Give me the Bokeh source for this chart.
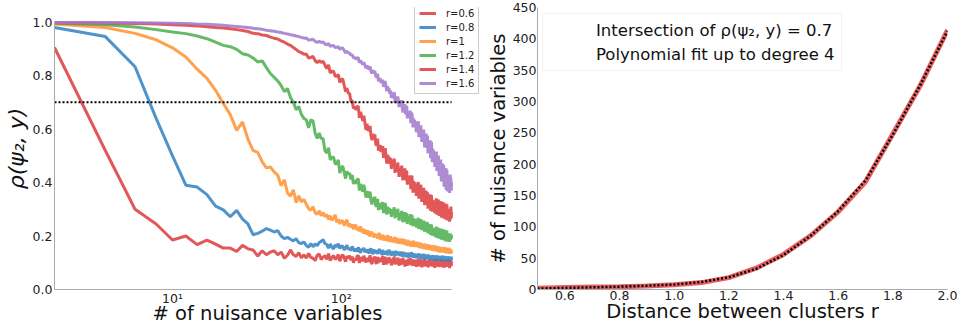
from bokeh.plotting import figure
from bokeh.models import FixedTicker, PrintfTickFormatter, Legend, LegendItem
from bokeh.layouts import row
from bokeh.embed import file_html
from bokeh.resources import INLINE

# ---------------- data: left panel ----------------
N_VARS = list(range(2, 452, 2))  # number of nuisance variables
THRESHOLD = 0.7
SERIES_LABELS = ["r=0.6", "r=0.8", "r=1", "r=1.2", "r=1.4", "r=1.6"]

RHO_R06 = [
    0.905, 0.52, 0.30, 0.245, 0.185, 0.20, 0.168, 0.185, 0.17, 0.155,
    0.155, 0.142, 0.165, 0.152, 0.148, 0.125, 0.145, 0.13, 0.14, 0.145,
    0.13, 0.14, 0.117, 0.128, 0.148, 0.13, 0.124, 0.138, 0.118, 0.13,
    0.117, 0.135, 0.12, 0.117, 0.108, 0.128, 0.133, 0.112, 0.121, 0.126,
    0.113, 0.134, 0.108, 0.12, 0.127, 0.112, 0.119, 0.131, 0.106, 0.122,
    0.131, 0.118, 0.104, 0.125, 0.117, 0.127, 0.109, 0.123, 0.1, 0.116,
    0.109, 0.124, 0.128, 0.099, 0.121, 0.114, 0.106, 0.126, 0.113, 0.101,
    0.118, 0.104, 0.112, 0.128, 0.103, 0.095, 0.119, 0.111, 0.124, 0.1,
    0.097, 0.122, 0.1, 0.113, 0.117, 0.104, 0.111, 0.126, 0.092, 0.114,
    0.122, 0.103, 0.094, 0.116, 0.108, 0.121, 0.099, 0.115, 0.09, 0.108,
    0.1, 0.117, 0.121, 0.093, 0.111, 0.104, 0.096, 0.119, 0.107, 0.089,
    0.115, 0.101, 0.092, 0.112, 0.104, 0.118, 0.095, 0.109, 0.086, 0.103,
    0.095, 0.111, 0.089, 0.106, 0.114, 0.097, 0.104, 0.118, 0.09, 0.108,
    0.113, 0.098, 0.088, 0.109, 0.1, 0.112, 0.093, 0.107, 0.085, 0.101,
    0.094, 0.11, 0.114, 0.087, 0.105, 0.098, 0.091, 0.113, 0.102, 0.083,
    0.111, 0.096, 0.087, 0.108, 0.099, 0.115, 0.092, 0.104, 0.086, 0.1,
    0.092, 0.108, 0.097, 0.083, 0.11, 0.101, 0.095, 0.114, 0.088, 0.104,
    0.109, 0.094, 0.086, 0.107, 0.098, 0.112, 0.09, 0.103, 0.081, 0.099,
    0.093, 0.11, 0.113, 0.086, 0.104, 0.096, 0.09, 0.111, 0.099, 0.084,
    0.108, 0.095, 0.088, 0.106, 0.1, 0.114, 0.091, 0.105, 0.083, 0.098,
    0.094, 0.109, 0.096, 0.082, 0.11, 0.1, 0.093, 0.112, 0.087, 0.103,
    0.107, 0.092, 0.085, 0.105, 0.097, 0.113, 0.089, 0.104, 0.08, 0.098,
    0.11, 0.093, 0.101, 0.087, 0.106,
]

RHO_R08 = [
    0.98, 0.946, 0.833, 0.64, 0.50, 0.39, 0.383, 0.355, 0.312, 0.298,
    0.272, 0.296, 0.263, 0.245, 0.205, 0.21, 0.218, 0.228, 0.222, 0.215,
    0.22, 0.20, 0.19, 0.195, 0.188, 0.182, 0.19, 0.175, 0.172, 0.178,
    0.165, 0.158, 0.172, 0.16, 0.17, 0.164, 0.176, 0.18, 0.186, 0.172,
    0.168, 0.155, 0.17, 0.158, 0.152, 0.167, 0.16, 0.171, 0.153, 0.163,
    0.162, 0.148, 0.157, 0.166, 0.149, 0.156, 0.145, 0.161, 0.151, 0.143,
    0.153, 0.141, 0.158, 0.145, 0.137, 0.152, 0.146, 0.156, 0.139, 0.15,
    0.138, 0.151, 0.134, 0.147, 0.154, 0.14, 0.132, 0.149, 0.143, 0.136,
    0.147, 0.133, 0.141, 0.152, 0.135, 0.145, 0.129, 0.148, 0.139, 0.131,
    0.142, 0.13, 0.146, 0.128, 0.14, 0.149, 0.133, 0.137, 0.126, 0.144,
    0.128, 0.141, 0.136, 0.124, 0.145, 0.131, 0.139, 0.127, 0.142, 0.133,
    0.138, 0.125, 0.133, 0.142, 0.122, 0.136, 0.129, 0.14, 0.124, 0.132,
    0.121, 0.135, 0.128, 0.138, 0.119, 0.132, 0.136, 0.123, 0.13, 0.139,
    0.133, 0.12, 0.129, 0.136, 0.118, 0.131, 0.124, 0.134, 0.117, 0.128,
    0.131, 0.118, 0.127, 0.135, 0.116, 0.129, 0.122, 0.133, 0.115, 0.125,
    0.119, 0.131, 0.114, 0.126, 0.133, 0.117, 0.124, 0.112, 0.13, 0.121,
    0.127, 0.113, 0.122, 0.131, 0.115, 0.124, 0.11, 0.128, 0.119, 0.125,
    0.112, 0.126, 0.118, 0.129, 0.109, 0.122, 0.127, 0.114, 0.123, 0.108,
    0.124, 0.111, 0.119, 0.128, 0.112, 0.121, 0.107, 0.126, 0.116, 0.122,
    0.11, 0.125, 0.117, 0.106, 0.124, 0.113, 0.12, 0.127, 0.109, 0.118,
    0.123, 0.108, 0.116, 0.126, 0.11, 0.119, 0.105, 0.122, 0.114, 0.12,
    0.107, 0.121, 0.113, 0.125, 0.108, 0.117, 0.122, 0.104, 0.119, 0.111,
    0.12, 0.106, 0.116, 0.123, 0.11,
]

RHO_R10 = [
    0.993, 0.98, 0.958, 0.934, 0.904, 0.87, 0.824, 0.79, 0.745, 0.696,
    0.654, 0.595, 0.627, 0.562, 0.52, 0.513, 0.477, 0.455, 0.458, 0.44,
    0.428, 0.388, 0.41, 0.361, 0.349, 0.373, 0.325, 0.35, 0.328, 0.337,
    0.32, 0.303, 0.296, 0.31, 0.287, 0.281, 0.295, 0.276, 0.288, 0.272,
    0.281, 0.262, 0.276, 0.258, 0.267, 0.279, 0.251, 0.263, 0.245, 0.257,
    0.256, 0.239, 0.251, 0.261, 0.236, 0.247, 0.232, 0.244, 0.225, 0.238,
    0.241, 0.222, 0.233, 0.218, 0.236, 0.214, 0.228, 0.209, 0.224, 0.213,
    0.205, 0.221, 0.209, 0.198, 0.217, 0.203, 0.212, 0.194, 0.208, 0.199,
    0.207, 0.19, 0.203, 0.212, 0.186, 0.199, 0.193, 0.205, 0.183, 0.196,
    0.198, 0.182, 0.194, 0.203, 0.179, 0.191, 0.186, 0.199, 0.177, 0.189,
    0.191, 0.176, 0.188, 0.197, 0.174, 0.186, 0.18, 0.193, 0.171, 0.184,
    0.188, 0.172, 0.183, 0.19, 0.169, 0.181, 0.176, 0.189, 0.168, 0.179,
    0.165, 0.182, 0.171, 0.186, 0.163, 0.176, 0.168, 0.181, 0.172, 0.16,
    0.178, 0.164, 0.172, 0.183, 0.159, 0.174, 0.166, 0.179, 0.161, 0.17,
    0.173, 0.158, 0.169, 0.177, 0.155, 0.167, 0.16, 0.174, 0.153, 0.165,
    0.155, 0.171, 0.158, 0.168, 0.15, 0.164, 0.172, 0.153, 0.162, 0.149,
    0.166, 0.151, 0.16, 0.169, 0.148, 0.161, 0.155, 0.167, 0.146, 0.158,
    0.148, 0.164, 0.153, 0.161, 0.144, 0.158, 0.166, 0.147, 0.156, 0.143,
    0.16, 0.146, 0.155, 0.163, 0.142, 0.154, 0.149, 0.161, 0.139, 0.152,
    0.141, 0.157, 0.147, 0.16, 0.138, 0.151, 0.145, 0.158, 0.14, 0.149,
    0.156, 0.139, 0.15, 0.159, 0.137, 0.149, 0.143, 0.157, 0.135, 0.147,
    0.138, 0.155, 0.144, 0.152, 0.134, 0.148, 0.156, 0.137, 0.146, 0.133,
    0.152, 0.138, 0.149, 0.135, 0.145,
]

RHO_R12 = [
    0.997, 0.99, 0.982, 0.972, 0.963, 0.957, 0.948, 0.938, 0.925, 0.913,
    0.908, 0.898, 0.882, 0.877, 0.866, 0.851, 0.855, 0.83, 0.808, 0.794,
    0.78, 0.763, 0.74, 0.752, 0.718, 0.70, 0.672, 0.685, 0.655, 0.64,
    0.635, 0.605, 0.635, 0.63, 0.585, 0.565, 0.585, 0.565, 0.565, 0.52,
    0.51, 0.53, 0.485, 0.495, 0.495, 0.47, 0.47, 0.485, 0.435, 0.455,
    0.462, 0.438, 0.415, 0.442, 0.43, 0.436, 0.412, 0.428, 0.394, 0.41,
    0.395, 0.41, 0.415, 0.37, 0.395, 0.38, 0.366, 0.392, 0.368, 0.344,
    0.368, 0.344, 0.35, 0.366, 0.332, 0.318, 0.344, 0.33, 0.347, 0.314,
    0.311, 0.339, 0.297, 0.315, 0.323, 0.301, 0.309, 0.327, 0.286, 0.315,
    0.324, 0.302, 0.28, 0.309, 0.297, 0.305, 0.284, 0.301, 0.272, 0.29,
    0.279, 0.298, 0.307, 0.266, 0.295, 0.284, 0.272, 0.302, 0.28, 0.258,
    0.287, 0.266, 0.275, 0.294, 0.263, 0.252, 0.281, 0.27, 0.289, 0.258,
    0.257, 0.286, 0.245, 0.264, 0.274, 0.254, 0.263, 0.282, 0.241, 0.27,
    0.279, 0.258, 0.237, 0.265, 0.255, 0.264, 0.243, 0.262, 0.232, 0.251,
    0.24, 0.259, 0.268, 0.227, 0.256, 0.245, 0.234, 0.263, 0.242, 0.222,
    0.251, 0.23, 0.239, 0.258, 0.227, 0.216, 0.245, 0.234, 0.253, 0.223,
    0.222, 0.251, 0.21, 0.229, 0.238, 0.217, 0.226, 0.245, 0.204, 0.234,
    0.243, 0.222, 0.201, 0.231, 0.22, 0.229, 0.209, 0.228, 0.198, 0.217,
    0.206, 0.225, 0.235, 0.193, 0.223, 0.213, 0.202, 0.231, 0.211, 0.19,
    0.22, 0.199, 0.209, 0.228, 0.198, 0.187, 0.217, 0.206, 0.226, 0.195,
    0.194, 0.224, 0.183, 0.203, 0.212, 0.192, 0.201, 0.221, 0.18, 0.21,
    0.22, 0.2, 0.179, 0.209, 0.198, 0.208, 0.188, 0.207, 0.178, 0.197,
    0.21, 0.186, 0.203, 0.19, 0.205,
]

RHO_R14 = [
    0.998, 0.997, 0.995, 0.993, 0.99, 0.988, 0.986, 0.983, 0.98, 0.978,
    0.975, 0.972, 0.969, 0.965, 0.958, 0.957, 0.952, 0.95, 0.944, 0.94,
    0.937, 0.93, 0.925, 0.918, 0.913, 0.905, 0.898, 0.89, 0.886, 0.88,
    0.881, 0.866, 0.868, 0.872, 0.856, 0.848, 0.856, 0.849, 0.854, 0.839,
    0.826, 0.84, 0.81, 0.816, 0.816, 0.798, 0.798, 0.804, 0.774, 0.786,
    0.787, 0.764, 0.74, 0.753, 0.735, 0.733, 0.704, 0.708, 0.677, 0.685,
    0.671, 0.684, 0.686, 0.642, 0.664, 0.648, 0.631, 0.65, 0.624, 0.597,
    0.62, 0.594, 0.598, 0.612, 0.575, 0.558, 0.582, 0.566, 0.58, 0.544,
    0.539, 0.564, 0.519, 0.534, 0.54, 0.515, 0.52, 0.536, 0.492, 0.518,
    0.529, 0.50, 0.471, 0.504, 0.488, 0.497, 0.47, 0.491, 0.451, 0.473,
    0.458, 0.479, 0.489, 0.436, 0.47, 0.455, 0.44, 0.475, 0.448, 0.421,
    0.456, 0.43, 0.44, 0.463, 0.424, 0.409, 0.444, 0.43, 0.453, 0.414,
    0.411, 0.445, 0.392, 0.414, 0.423, 0.396, 0.405, 0.427, 0.375, 0.41,
    0.426, 0.394, 0.362, 0.405, 0.388, 0.401, 0.369, 0.397, 0.35, 0.378,
    0.361, 0.389, 0.402, 0.34, 0.383, 0.366, 0.349, 0.392, 0.36, 0.328,
    0.371, 0.339, 0.352, 0.38, 0.333, 0.316, 0.359, 0.342, 0.37, 0.323,
    0.321, 0.364, 0.302, 0.33, 0.344, 0.313, 0.327, 0.356, 0.295, 0.339,
    0.353, 0.322, 0.291, 0.335, 0.319, 0.333, 0.302, 0.331, 0.285, 0.314,
    0.298, 0.327, 0.341, 0.28, 0.324, 0.308, 0.292, 0.336, 0.306, 0.275,
    0.319, 0.288, 0.302, 0.331, 0.285, 0.269, 0.314, 0.298, 0.327, 0.282,
    0.281, 0.325, 0.265, 0.294, 0.308, 0.278, 0.292, 0.321, 0.261, 0.305,
    0.319, 0.288, 0.258, 0.302, 0.287, 0.301, 0.271, 0.30, 0.254, 0.284,
    0.298, 0.262, 0.31, 0.268, 0.29,
]

RHO_R16 = [
    0.999, 0.999, 0.998, 0.997, 0.996, 0.995, 0.993, 0.992, 0.99, 0.988,
    0.986, 0.984, 0.982, 0.98, 0.977, 0.975, 0.973, 0.97, 0.968, 0.966,
    0.963, 0.961, 0.958, 0.956, 0.953, 0.951, 0.948, 0.946, 0.943, 0.94,
    0.941, 0.933, 0.934, 0.936, 0.928, 0.924, 0.928, 0.924, 0.926, 0.918,
    0.915, 0.92, 0.91, 0.912, 0.913, 0.905, 0.906, 0.908, 0.898, 0.903,
    0.903, 0.894, 0.885, 0.891, 0.885, 0.885, 0.876, 0.879, 0.866, 0.868,
    0.861, 0.866, 0.867, 0.848, 0.856, 0.849, 0.841, 0.85, 0.839, 0.828,
    0.838, 0.825, 0.827, 0.834, 0.816, 0.808, 0.82, 0.811, 0.817, 0.798,
    0.793, 0.807, 0.779, 0.787, 0.789, 0.773, 0.776, 0.785, 0.758, 0.773,
    0.779, 0.76, 0.741, 0.76, 0.748, 0.752, 0.732, 0.744, 0.717, 0.728,
    0.716, 0.731, 0.737, 0.698, 0.722, 0.71, 0.698, 0.722, 0.702, 0.682,
    0.707, 0.684, 0.691, 0.708, 0.675, 0.662, 0.689, 0.676, 0.693, 0.66,
    0.657, 0.687, 0.64, 0.659, 0.667, 0.642, 0.65, 0.669, 0.622, 0.651,
    0.662, 0.634, 0.606, 0.64, 0.625, 0.634, 0.607, 0.628, 0.588, 0.61,
    0.593, 0.618, 0.629, 0.57, 0.609, 0.592, 0.575, 0.614, 0.583, 0.552,
    0.592, 0.559, 0.571, 0.598, 0.55, 0.532, 0.574, 0.556, 0.583, 0.535,
    0.531, 0.576, 0.509, 0.538, 0.551, 0.516, 0.529, 0.558, 0.491, 0.536,
    0.552, 0.514, 0.476, 0.526, 0.505, 0.52, 0.481, 0.514, 0.458, 0.49,
    0.469, 0.502, 0.516, 0.443, 0.493, 0.472, 0.451, 0.501, 0.463, 0.425,
    0.476, 0.435, 0.451, 0.486, 0.426, 0.404, 0.458, 0.436, 0.471, 0.411,
    0.408, 0.466, 0.384, 0.422, 0.44, 0.398, 0.416, 0.454, 0.372, 0.43,
    0.449, 0.408, 0.367, 0.426, 0.405, 0.424, 0.383, 0.422, 0.361, 0.40,
    0.43, 0.385, 0.415, 0.37, 0.40,
]

SERIES = [RHO_R06, RHO_R08, RHO_R10, RHO_R12, RHO_R14, RHO_R16]
COLORS = ["#dd3b3b", "#2f80c0", "#ff9030", "#4aae4a", "#dd3b3b", "#a078cc"]

for s in SERIES:
    assert len(s) == len(N_VARS), (len(s), len(N_VARS))

# ---------------- data: right panel ----------------
R_DIST = [0.5, 0.6, 0.7, 0.8, 0.9, 1.0, 1.1, 1.2, 1.3, 1.4, 1.5, 1.6, 1.7, 1.8, 1.9, 2.0]
N_INTERSECT = [2, 3, 4, 4.5, 5.5, 7.5, 11, 19, 34, 56, 86, 124, 172, 248, 325, 414]
N_POLYFIT = [1.5, 2.5, 3.5, 4.5, 6, 8, 12, 19.5, 33, 55, 86, 125, 174, 247, 326, 413]

FONT = "DejaVu Sans"


def style_axes(p):
    p.outline_line_color = None
    p.xgrid.visible = False
    p.ygrid.visible = False
    p.background_fill_color = "white"
    p.border_fill_color = "white"
    for ax in (p.xaxis[0], p.yaxis[0]):
        ax.axis_line_color = "#aaaaaa"
        ax.axis_line_width = 1
        ax.major_tick_line_color = None
        ax.minor_tick_line_color = None
        ax.major_tick_out = 0
        ax.major_tick_in = 0
        ax.minor_tick_out = 0
        ax.minor_tick_in = 0
        ax.major_label_text_font = FONT
        ax.major_label_text_font_size = "12.5px"
        ax.major_label_text_color = "#222222"
        ax.axis_label_text_font = FONT
        ax.axis_label_text_font_size = "19.5px"
        ax.axis_label_text_font_style = "normal"
        ax.axis_label_text_color = "#111111"
        ax.major_label_standoff = 1


# ---------------- left figure ----------------
# The frame is widened past the data (up and right) so that the legend, which
# sits in the top-right corner partly outside the data area, is not clipped.
X_VIEW_END = N_VARS[-1] * 10 ** (29 / 169.2)
Y_VIEW_END = 1.0 * 289 / 274

p1 = figure(width=480, height=332, x_axis_type="log", x_range=(N_VARS[0], X_VIEW_END),
            y_range=(0, Y_VIEW_END),
            output_backend="svg", toolbar_location=None,
            min_border_left=53, min_border_right=0, min_border_top=0, min_border_bottom=43)
style_axes(p1)
p1.xaxis.bounds = (N_VARS[0], N_VARS[-1])
p1.yaxis.bounds = (0, 1.0)
p1.xaxis.ticker = FixedTicker(ticks=[10, 100], minor_ticks=[])
p1.xaxis.major_label_overrides = {10: "10¹", 100: "10²"}
p1.yaxis.ticker = FixedTicker(ticks=[0.0, 0.2, 0.4, 0.6, 0.8, 1.0])
p1.yaxis.formatter = PrintfTickFormatter(format="%.1f")
p1.yaxis.major_label_standoff = 2
p1.xaxis.axis_label = "# of nuisance variables"
p1.xaxis.axis_label_standoff = -7
p1.yaxis.axis_label = "ρ(ψ₂, y)"
p1.yaxis.axis_label_text_font_size = "22px"
p1.yaxis.axis_label_text_font_style = "italic"
p1.yaxis.axis_label_standoff = 1

items = []
for vals, col, lab in zip(SERIES, COLORS, SERIES_LABELS):
    r = p1.line(N_VARS, vals, line_color=col, line_width=3, line_alpha=0.85)
    items.append(LegendItem(label=lab, renderers=[r]))

# dotted threshold line across the data range
p1.line([N_VARS[0], N_VARS[-1]], [THRESHOLD, THRESHOLD], line_color="black",
        line_width=2, line_dash="2 2")

leg1 = Legend(items=items, location=(360, 195), orientation="vertical",
              label_text_font=FONT, label_text_font_size="10px", label_text_color="#222222",
              glyph_width=17, glyph_height=12, label_height=12, label_standoff=10,
              spacing=2, padding=4, margin=0,
              border_line_color="#999999", border_line_width=1,
              background_fill_color="white", background_fill_alpha=1.0)
p1.add_layout(leg1)

# ---------------- right figure ----------------
p2 = figure(width=480, height=332, x_range=(0.5, 2.0), y_range=(0, 450),
            output_backend="svg", toolbar_location=None,
            min_border_left=57, min_border_right=13, min_border_top=7, min_border_bottom=43)
style_axes(p2)
p2.xaxis.ticker = FixedTicker(ticks=[0.6, 0.8, 1.0, 1.2, 1.4, 1.6, 1.8, 2.0])
p2.xaxis.formatter = PrintfTickFormatter(format="%.1f")
p2.yaxis.ticker = FixedTicker(ticks=[0, 50, 100, 150, 200, 250, 300, 350, 400, 450])
p2.xaxis.axis_label = "Distance between clusters r"
p2.xaxis.axis_label_standoff = -3
p2.yaxis.axis_label = "# of nuisance variables"
p2.yaxis.axis_label_standoff = 0

p2.line(R_DIST, N_INTERSECT, line_color="#e03a3a", line_width=5, line_alpha=0.8)
p2.line(R_DIST, N_POLYFIT, line_color="black", line_width=2.5, line_dash="2 2")

leg_red = p2.line([], [], line_color="red", line_width=1.5)
leg_dot = p2.line([], [], line_color="black", line_width=1.2, line_dash="1 1")
leg2 = Legend(items=[LegendItem(label="Intersection of ρ(ψ₂, y) = 0.7", renderers=[leg_red]),
                     LegendItem(label="Polynomial fit up to degree 4", renderers=[leg_dot])],
              location=(5, 218), orientation="vertical",
              label_text_font=FONT, label_text_font_size="16.5px", label_text_color="#111111",
              glyph_width=34, glyph_height=20, label_height=20, label_standoff=13,
              spacing=4, padding=6, margin=0,
              border_line_color="#e6e6e6", border_line_width=1,
              background_fill_color="white", background_fill_alpha=1.0)
p2.add_layout(leg2)

layout = row(p1, p2)
open("out.html", "w").write(file_html(layout, INLINE))
